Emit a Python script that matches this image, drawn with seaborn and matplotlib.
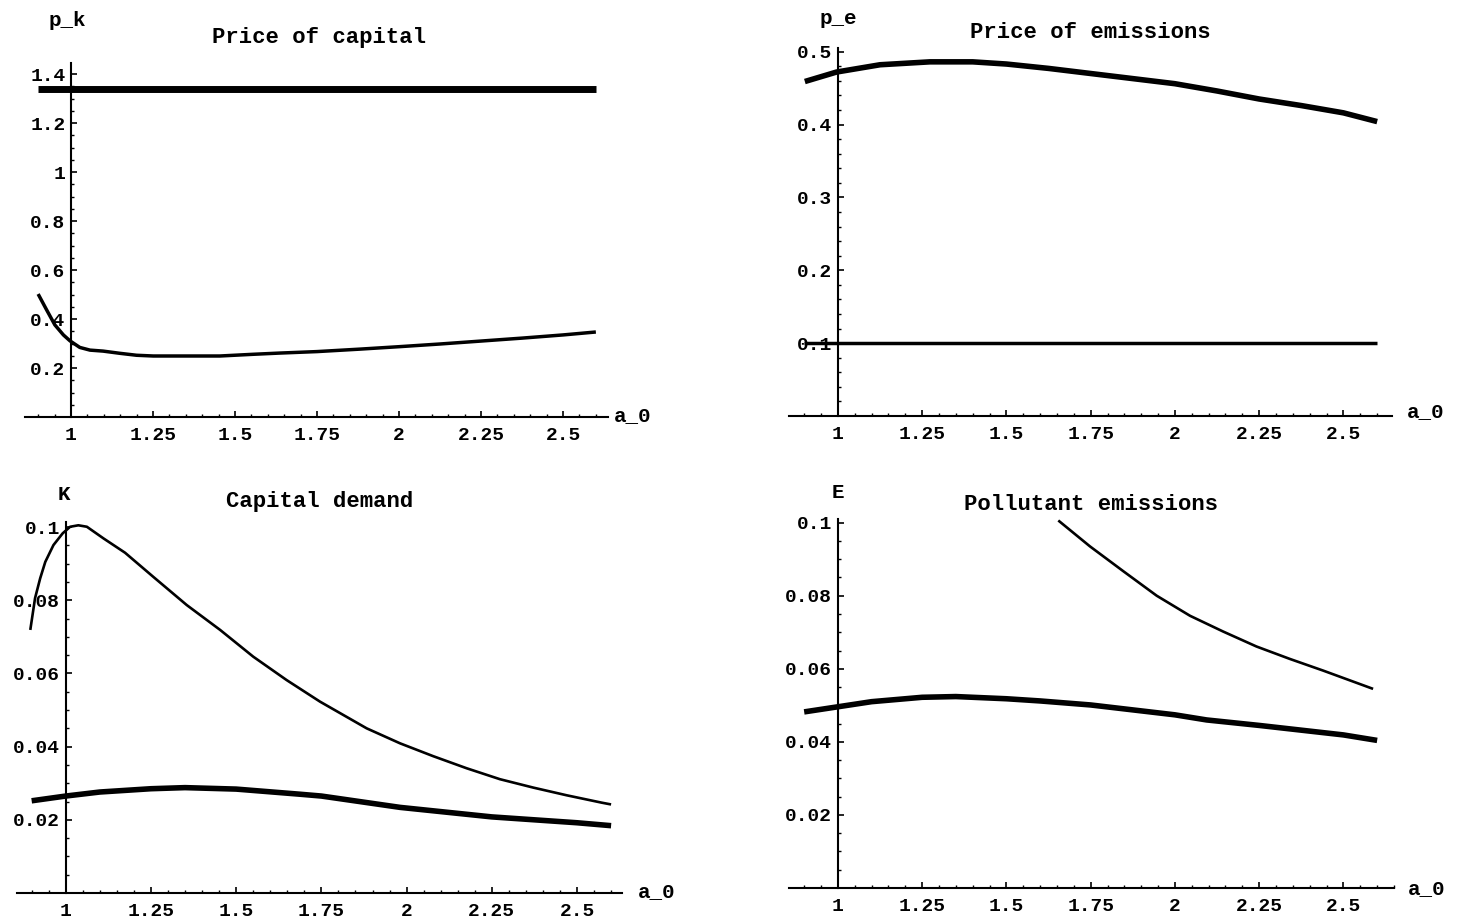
import matplotlib
matplotlib.use("Agg")
import matplotlib.pyplot as plt
from matplotlib.ticker import MultipleLocator, AutoMinorLocator, FuncFormatter
import seaborn as sns

# ---- Price of capital (p_k) ----
pk_high_x = [0.9, 2.6]
pk_high = [1.337, 1.337]
pk_low_x = [0.900, 0.926, 0.951, 0.977, 0.997, 1.027, 1.058, 1.098, 1.149, 1.200,
            1.251, 1.353, 1.454, 1.556, 1.637, 1.750, 1.880, 2.000, 2.125, 2.250,
            2.375, 2.500, 2.600]
pk_low = [0.502, 0.437, 0.376, 0.335, 0.311, 0.284, 0.273, 0.269, 0.260, 0.252,
          0.249, 0.249, 0.249, 0.256, 0.261, 0.267, 0.277, 0.287, 0.298, 0.310,
          0.322, 0.335, 0.347]

# ---- Price of emissions (p_e) ----
pe_high_x = [0.902, 0.996, 1.125, 1.273, 1.400, 1.500, 1.625, 1.750, 1.875, 2.000,
             2.125, 2.250, 2.375, 2.500, 2.600]
pe_high = [0.459, 0.472, 0.482, 0.486, 0.486, 0.483, 0.477, 0.470, 0.463, 0.456,
           0.446, 0.435, 0.426, 0.416, 0.404]
pe_low_x = [0.9, 2.6]
pe_low = [0.1005, 0.1005]

# ---- Capital demand (K) ----
k_thin_x = [0.896, 0.910, 0.925, 0.940, 0.964, 0.991, 1.013, 1.037, 1.062, 1.111,
            1.174, 1.257, 1.355, 1.453, 1.550, 1.648, 1.746, 1.883, 1.981, 2.078,
            2.176, 2.274, 2.372, 2.470, 2.572, 2.600]
k_thin = [0.0719, 0.0806, 0.0860, 0.0905, 0.0951, 0.0983, 0.1001, 0.1005, 0.1001, 0.0969,
          0.0930, 0.0864, 0.0787, 0.0719, 0.0646, 0.0582, 0.0523, 0.0450, 0.0409, 0.0374,
          0.0341, 0.0311, 0.0288, 0.0267, 0.0247, 0.0242]
k_thick_x = [0.9, 1.0, 1.1, 1.25, 1.35, 1.5, 1.687, 1.75, 1.981, 2.25, 2.5, 2.6]
k_thick = [0.0252, 0.0265, 0.0276, 0.0285, 0.0288, 0.0284, 0.0270, 0.0265, 0.0234,
           0.0208, 0.0192, 0.0184]

# ---- Pollutant emissions (E) ----
e_thin_x = [1.654, 1.748, 1.847, 1.946, 2.045, 2.143, 2.242, 2.341, 2.440, 2.588]
e_thin = [0.1006, 0.0935, 0.0867, 0.0800, 0.0745, 0.0702, 0.0661, 0.0627, 0.0595, 0.0545]
e_thick_x = [0.9, 1.0, 1.1, 1.25, 1.35, 1.5, 1.6, 1.75, 2.0, 2.094, 2.25, 2.5, 2.6]
e_thick = [0.0482, 0.0496, 0.0510, 0.0522, 0.0524, 0.0518, 0.0512, 0.0501, 0.0474,
           0.0460, 0.0445, 0.0419, 0.0404]

sns.set_theme(style="white")
plt.rcParams["font.family"] = ["Liberation Mono", "DejaVu Sans"]
plt.rcParams["font.weight"] = "bold"
plt.rcParams["text.color"] = "black"
plt.rcParams["xtick.color"] = "black"
plt.rcParams["ytick.color"] = "black"

W, H = 1457, 924
fig = plt.figure(figsize=(W / 100, H / 100), dpi=100)
fig.patch.set_facecolor("white")


def rect(left, top, right, bottom):
    return [left / W, 1 - bottom / H, (right - left) / W, (bottom - top) / H]


def ftext(x, y, s, size, ha="center"):
    fig.text(x / W, 1 - y / H, s, ha=ha, va="center", fontsize=size,
             fontweight="bold", color="black",
             family=["Liberation Mono", "DejaVu Sans"])


def fmt(v, _pos):
    if abs(v) < 1e-12:
        return ""
    return "%g" % round(v, 6)


def style_axis(ax, xlim, ylim, ymajor, yminor_div):
    ax.set_xlim(*xlim)
    ax.set_ylim(*ylim)
    ax.set_facecolor("white")
    for side in ("top", "right"):
        ax.spines[side].set_visible(False)
    ax.spines["left"].set_position(("data", 1.0))
    ax.spines["bottom"].set_position(("data", 0.0))
    for side in ("left", "bottom"):
        ax.spines[side].set_color("black")
        ax.spines[side].set_linewidth(1.5)
    ax.xaxis.set_major_locator(MultipleLocator(0.25))
    ax.xaxis.set_minor_locator(AutoMinorLocator(5))
    ax.yaxis.set_major_locator(MultipleLocator(ymajor))
    ax.yaxis.set_minor_locator(AutoMinorLocator(yminor_div))
    ax.xaxis.set_major_formatter(FuncFormatter(fmt))
    ax.yaxis.set_major_formatter(FuncFormatter(fmt))
    ax.tick_params(which="major", direction="in", length=4, width=1.2, color="black",
                   labelsize=14, labelcolor="black")
    ax.tick_params(which="minor", direction="in", length=2, width=1.0, color="black")
    ax.tick_params(axis="x", which="major", pad=7)
    ax.tick_params(axis="y", which="major", pad=4)
    ax.tick_params(left=True, bottom=True, which="both")
    for lab in ax.get_xticklabels() + ax.get_yticklabels():
        lab.set_fontweight("bold")
    ax.set_xlabel("")
    ax.set_ylabel("")
    ax.grid(False)


def curve(ax, xs, ys, lw):
    sns.lineplot(x=xs, y=ys, ax=ax, color="black", linewidth=lw, sort=False,
                 estimator=None, solid_capstyle="butt", clip_on=True)


# Panel 1: price of capital
ax1 = fig.add_axes(rect(25, 63, 608, 417))
curve(ax1, pk_high_x, pk_high, 5.0)
curve(ax1, pk_low_x, pk_low, 2.5)
style_axis(ax1, (0.86, 2.637), (0, 1.445), 0.2, 4)

# Panel 2: price of emissions
ax2 = fig.add_axes(rect(789, 48, 1392, 416))
curve(ax2, pe_high_x, pe_high, 4.0)
curve(ax2, pe_low_x, pe_low, 2.5)
style_axis(ax2, (0.855, 2.644), (0, 0.505), 0.1, 5)

# Panel 3: capital demand
ax3 = fig.add_axes(rect(17, 522, 622, 893))
curve(ax3, k_thin_x, k_thin, 1.9)
curve(ax3, k_thick_x, k_thick, 4.0)
style_axis(ax3, (0.857, 2.632), (0, 0.1014), 0.02, 4)

# Panel 4: pollutant emissions
ax4 = fig.add_axes(rect(789, 519, 1394, 888))
curve(ax4, e_thin_x, e_thin, 1.9)
curve(ax4, e_thick_x, e_thick, 4.0)
style_axis(ax4, (0.855, 2.65), (0, 0.101), 0.02, 4)

# Titles and axis names
ftext(319, 38, "Price of capital", 16)
ftext(1090, 33, "Price of emissions", 16)
ftext(320, 501, "Capital demand", 16)
ftext(1091, 505, "Pollutant emissions", 16)

ftext(67, 20, "p_k", 15)
ftext(838, 18, "p_e", 15)
ftext(64, 494, "K", 15)
ftext(838, 493, "E", 15)

ftext(633, 416, "a_0", 15)
ftext(1426, 412, "a_0", 15)
ftext(657, 892, "a_0", 15)
ftext(1427, 889, "a_0", 15)

fig.savefig("out.png", dpi=100, facecolor="white")
